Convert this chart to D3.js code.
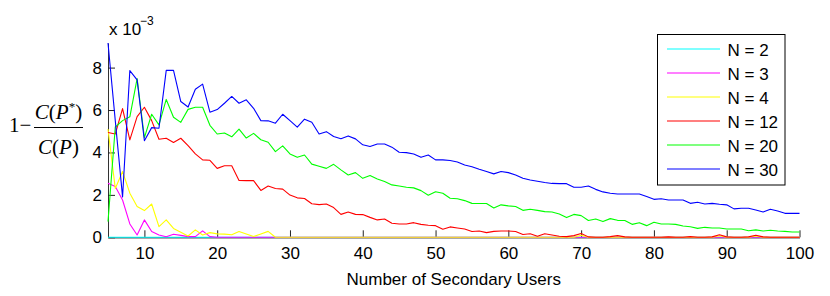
<!DOCTYPE html>
<html><head><meta charset="utf-8">
<script src="https://cdn.jsdelivr.net/npm/d3@7"></script>
<style>body{margin:0;background:#fff}svg{display:block}</style>
</head><body>
<svg id="chart" width="830" height="296"></svg>
<script>
// Number of secondary users (x categories)
const users = [5,6,7,8,9,10,11,12,13,14,15,16,17,18,19,20,21,22,23,24,25,26,27,28,29,30,31,32,33,34,35,36,37,38,39,40,41,42,43,44,45,46,47,48,49,50,51,52,53,54,55,56,57,58,59,60,61,62,63,64,65,66,67,68,69,70,71,72,73,74,75,76,77,78,79,80,81,82,83,84,85,86,87,88,89,90,91,92,93,94,95,96,97,98,99,100];

// values in units of 1e-3
const n2 = [0,0,0,0,0,0,0,0,0,0,0,0,0,0,0,0,0,0,0,0,0,0,0,0,0,0,0,0,0,0,0,0,0,0,0,0,0,0,0,0,0,0,0,0,0,0,0,0,0,0,0,0,0,0,0,0,0,0,0,0,0,0,0,0,0,0,0,0,0,0,0,0,0,0,0,0,0,0,0,0,0,0,0,0,0,0,0,0,0,0,0,0,0,0,0,0];
const n3 = [2.55,2.39,1.76,0.63,0.11,0.82,0.27,0.11,0.03,0.14,0.09,0.03,0.03,0.3,0.03,0,0,0,0,0,0,0,0,0,0,0,0,0,0,0,0,0,0,0,0,0,0,0,0,0,0,0,0,0,0,0,0,0,0,0,0,0,0,0,0,0,0,0,0,0,0,0,0,0,0,0,0,0,0,0,0,0,0,0,0,0,0,0,0,0,0,0,0,0,0,0,0,0,0,0,0,0,0,0,0,0];
const n4 = [5.1,2.3,3.1,2.08,1.45,1.26,1.57,0.5,0.82,0.42,0.24,0.06,0.35,0.11,0.22,0.16,0.15,0.12,0.27,0.16,0.04,0.16,0.28,0,0,0,0,0,0,0,0,0,0,0,0,0,0,0,0,0,0,0,0,0,0,0,0,0,0,0,0,0,0,0,0,0,0,0,0,0,0,0,0,0,0,0.1,0,0,0,0,0,0,0,0,0,0,0,0,0,0,0,0,0,0,0.07,0,0,0,0,0.06,0,0,0,0,0,0];
const n12 = [4.94,4.87,6.07,4.59,5.69,6.13,5.5,4.62,4.67,4.47,4.67,4.32,3.93,3.65,3.63,3.25,3.37,3.37,2.68,2.67,2.67,2.21,2.42,2.3,2.27,1.99,1.86,1.83,1.58,1.54,1.57,1.4,1.08,1.19,1.08,1.07,0.94,0.82,0.86,0.66,0.63,0.63,0.69,0.61,0.57,0.55,0.38,0.49,0.44,0.39,0.27,0.3,0.22,0.28,0.3,0.3,0.27,0.13,0.17,0.05,0.17,0.11,0.05,0.03,0.08,0.18,0.02,0,0,0.03,0.08,0.02,0,0,0,0,0,0.02,0,0,0.03,0,0,0.02,0.12,0.02,0,0,0.02,0.1,0.02,0,0,0,0,0];
const n20 = [0.74,5.2,5.5,5.68,7.48,4.7,5.8,5.3,6.5,5.66,5.42,6.03,6.13,6.13,5.28,4.87,4.92,4.74,5.1,4.68,4.9,4.6,4.48,4.04,4.31,3.93,3.77,3.88,3.45,3.35,3.25,3.44,3.18,2.94,3.05,2.78,2.91,2.75,2.63,2.47,2.42,2.36,2.33,2.2,1.98,2.15,2.08,1.84,1.82,1.73,1.6,1.59,1.59,1.38,1.53,1.48,1.45,1.27,1.32,1.27,1.21,1.19,1.1,0.93,1.08,1.02,0.79,0.86,0.74,0.88,0.8,0.79,0.61,0.69,0.55,0.71,0.63,0.63,0.61,0.53,0.5,0.42,0.47,0.44,0.44,0.39,0.39,0.39,0.31,0.35,0.3,0.33,0.3,0.28,0.25,0.25];
const n30 = [9.16,5.5,1.9,7.86,7.42,4.55,5.17,5.14,7.87,7.87,6.4,6.14,6.98,7.22,5.9,6.02,6.32,6.64,6.32,6.48,6.08,5.5,5.49,5.38,5.8,5.5,5.19,5.57,5.42,4.87,4.98,4.75,4.65,4.78,4.64,4.36,4.28,4.4,4.4,4.25,4.01,3.99,3.93,3.77,3.88,3.65,3.65,3.62,3.55,3.41,3.33,3.21,3.1,2.99,3.1,3.05,2.94,2.78,2.7,2.64,2.58,2.54,2.53,2.53,2.36,2.36,2.42,2.26,2.14,2.08,2.04,2.04,2.04,2.04,1.92,1.79,1.82,1.76,1.76,1.76,1.6,1.65,1.57,1.6,1.56,1.53,1.34,1.37,1.37,1.29,1.19,1.32,1.24,1.13,1.13,1.13];

const seriesNames = ["N = 2","N = 3","N = 4","N = 12","N = 20","N = 30"];
const seriesColors = ["#00ffff","#ff00ff","#ffff00","#ff0000","#00ff00","#0000ff"];
const seriesData = [n2,n3,n4,n12,n20,n30];
const xTicks = [10,20,30,40,50,60,70,80,90,100];
const yTicks = [0,2,4,6,8];

const svg = d3.select("#chart");
const L = 108, R = 799.5, T = 43, B = 237.3;
const x = d3.scaleLinear().domain([5,100]).range([L,R]);
const y = d3.scaleLinear().domain([0,9.16]).range([B,T]);
const font = "'Liberation Sans', Arial, Helvetica, sans-serif";

// axes
const gx = svg.append("g").attr("transform",`translate(0,${B})`)
  .call(d3.axisBottom(x).tickValues(xTicks).tickSizeInner(-7).tickSizeOuter(0).tickPadding(10));
gx.select(".domain").attr("stroke","#555").attr("stroke-width",1.4);
gx.selectAll(".tick line").attr("stroke","#222");
gx.selectAll("text").attr("font-family",font).attr("font-size",17).attr("fill","#000");

const gy = svg.append("g").attr("transform",`translate(${L},0)`)
  .call(d3.axisLeft(y).tickValues(yTicks).tickSizeInner(-7).tickSizeOuter(0).tickPadding(6));
gy.select(".domain").attr("stroke","#333").attr("stroke-width",1);
gy.selectAll(".tick line").attr("stroke","#222");
gy.selectAll("text").attr("font-family",font).attr("font-size",17).attr("fill","#000");

// exponent
svg.append("text").attr("x",109).attr("y",35).attr("font-family",font).attr("font-size",17).text("x 10");
svg.append("text").attr("x",140).attr("y",25).attr("font-family",font).attr("font-size",12).text("\u22123");

// lines
const line = d3.line().x((d,i)=>x(users[i])).y(d=>y(d));
seriesData.forEach((s,k)=>{
  svg.append("path").datum(s).attr("d",line).attr("fill","none")
    .attr("stroke",seriesColors[k]).attr("stroke-width",1.1).attr("stroke-linejoin","round");
});

// x label
svg.append("text").attr("x",(L+R)/2).attr("y",285).attr("text-anchor","middle")
  .attr("font-family",font).attr("font-size",17).text("Number of Secondary Users");

// y label (math)
const tf = "'Liberation Serif','Times New Roman',serif";
svg.append("text").attr("x",9).attr("y",132).attr("font-family",tf).attr("font-size",21).text("1\u2212");
svg.append("line").attr("x1",34).attr("x2",83).attr("y1",127.5).attr("y2",127.5).attr("stroke","#000").attr("stroke-width",1);
const num = svg.append("text").attr("x",58.5).attr("y",119).attr("text-anchor","middle").attr("font-family",tf).attr("font-size",21);
num.append("tspan").attr("font-style","italic").text("C");
num.append("tspan").text("(");
num.append("tspan").attr("font-style","italic").text("P");
num.append("tspan").attr("font-size",13).attr("dy",-8).text("*");
num.append("tspan").attr("dy",8).text(")");
const den = svg.append("text").attr("x",58.5).attr("y",154).attr("text-anchor","middle").attr("font-family",tf).attr("font-size",21);
den.append("tspan").attr("font-style","italic").text("C");
den.append("tspan").text("(");
den.append("tspan").attr("font-style","italic").text("P");
den.append("tspan").text(")");

// legend
const lg = svg.append("g");
lg.append("rect").attr("x",657.5).attr("y",34.5).attr("width",127.5).attr("height",150.5)
  .attr("fill","#fff").attr("stroke","#000").attr("stroke-width",1);
seriesNames.forEach((nm,k)=>{
  const yy = 49 + k*24;
  lg.append("line").attr("x1",667).attr("x2",720).attr("y1",yy).attr("y2",yy)
    .attr("stroke",seriesColors[k]).attr("stroke-width",1.2);
  lg.append("text").attr("x",727.5).attr("y",yy+6.5).attr("font-family",font).attr("font-size",17).text(nm);
});
</script>
</body></html>
